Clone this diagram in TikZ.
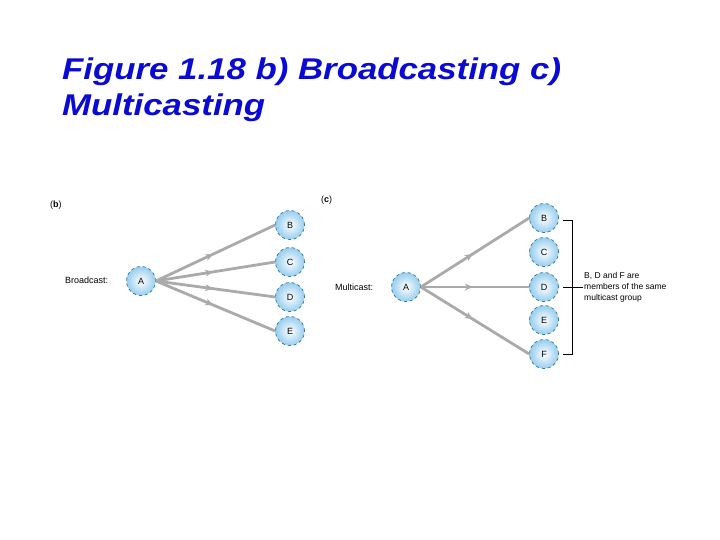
\documentclass[tikz,border=0pt]{standalone}
\usepackage{fontspec}
\setmainfont{Liberation Sans}
\newfontfamily\titlefont[FakeStretch=1.16]{Liberation Sans}
\usetikzlibrary{decorations.markings,arrows.meta}
\definecolor{titleblue}{RGB}{10,10,210}
\definecolor{edgegray}{RGB}{170,170,170}
\definecolor{nodeblue}{RGB}{150,205,238}
\definecolor{nodeline}{RGB}{50,120,150}
\tikzset{
  host/.style={circle, minimum size=29pt, inner sep=0pt, draw=nodeline, dashed, line width=0.7pt,
    inner color=white, outer color=nodeblue, font=\fontsize{9}{10}\selectfont},
  link/.style={draw=edgegray, line width=2.8pt,
    postaction={decorate, decoration={markings, mark=at position 0.48 with {\arrow[edgegray]{Stealth[length=8pt,width=7pt]}}}}},
  lbl/.style={font=\fontsize{9}{10}\selectfont, inner sep=0pt},
  ttl/.style={anchor=base west, inner sep=0pt, text=titleblue, font=\titlefont\fontsize{30}{36}\selectfont\bfseries\itshape},
  bracket/.style={draw=black, line width=0.9pt},
}
\begin{document}
\begin{tikzpicture}[x=1pt,y=-1pt]
\useasboundingbox (0,0) rectangle (720,540);
% title
\node[ttl] (title1) at (62,80) {Figure 1.18 b) Broadcasting c)};
\node[ttl] (title2) at (62,116) {Multicasting};
% panel b
\node[lbl, anchor=west] (bl) at (50,205) {(\textbf{b})};
\node[lbl, anchor=west] (bcast) at (65,280) {Broadcast:};
\node[host] (bA) at (141,281) {A};
\node[host] (bB) at (290,225) {B};
\node[host] (bC) at (290,262) {C};
\node[host] (bD) at (290,297) {D};
\node[host] (bE) at (290,331) {E};
\foreach \n in {bB,bC,bD,bE} \path[link] (bA.east) -- (\n.west);
% panel c
\node[lbl, anchor=west] (cl) at (321,200) {(\textbf{c})};
\node[lbl, anchor=west] (mcast) at (335,287) {Multicast:};
\node[host] (cA) at (406,287) {A};
\node[host] (cB) at (544,218) {B};
\node[host] (cC) at (544,252) {C};
\node[host] (cD) at (544,287) {D};
\node[host] (cE) at (544,320) {E};
\node[host] (cF) at (544,354) {F};
\foreach \n in {cB,cD,cF} \path[link] (cA.east) -- (\n.west);
% bracket
\coordinate (bt) at (563,220);
\coordinate (bb) at (563,354);
\draw[bracket] (bt) -- ++(9,0) |- (bb);
\coordinate (bm) at (563,287);
\draw[bracket] (bm) -- ++(20,0);
\node[lbl, anchor=west, align=left, font=\fontsize{8.5}{11}\selectfont] (note) at (584,287)
  {B, D and F are\\members of the same\\multicast group};
\end{tikzpicture}
\end{document}
